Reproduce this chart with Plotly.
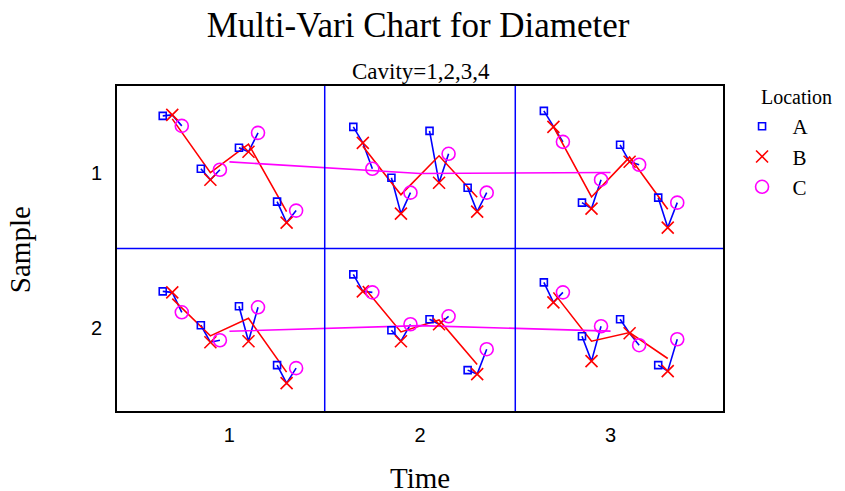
import plotly.graph_objects as go

# ---------------- data (Diameter readings, same scale in each panel) ----------------
times = [1, 2, 3]
samples = [1, 2]
cavities = [1, 2, 3, 4]
locations = ["A", "B", "C"]

# each list: [A per cavity], [B per cavity], [C per cavity]
S1_T1 = [[1.33, 0.80, 1.01, 0.47], [1.34, 0.69, 0.97, 0.26], [1.23, 0.79, 1.16, 0.38]]
S1_T2 = [[1.22, 0.71, 1.18, 0.61], [1.06, 0.35, 0.66, 0.37], [0.80, 0.56, 0.95, 0.56]]
S1_T3 = [[1.38, 0.46, 1.04, 0.51], [1.22, 0.40, 0.87, 0.21], [1.07, 0.69, 0.84, 0.46]]
S2_T1 = [[1.20, 0.86, 1.05, 0.46], [1.19, 0.69, 0.70, 0.28], [0.99, 0.71, 1.04, 0.43]]
S2_T2 = [[1.37, 0.81, 0.92, 0.41], [1.20, 0.70, 0.87, 0.37], [1.19, 0.87, 0.95, 0.62]]
S2_T3 = [[1.29, 0.75, 0.92, 0.46], [1.09, 0.50, 0.78, 0.40], [1.19, 0.85, 0.66, 0.72]]

x_tick_labels = ["1", "2", "3"]
y_tick_labels = ["1", "2"]

data = {(1, 1): S1_T1, (1, 2): S1_T2, (1, 3): S1_T3,
        (2, 1): S2_T1, (2, 2): S2_T2, (2, 3): S2_T3}

# ---------------- layout helpers ----------------
PANEL_H = 1.63
row_base = {1: PANEL_H, 2: 0.0}
cav_off = {1: -0.3, 2: -0.1, 3: 0.1, 4: 0.3}
loc_off = {"A": -0.05, "B": 0.0, "C": 0.05}

BLUE = "#0000FF"
RED = "#FF0000"
MAG = "#FF00FF"

fig = go.Figure()

# blue lines within each cavity (A -> B -> C)
bx, by = [], []
for s in samples:
    for t in times:
        vals = data[(s, t)]
        for ci, c in enumerate(cavities):
            for li, l in enumerate(locations):
                bx.append(t + cav_off[c] + loc_off[l])
                by.append(row_base[s] + vals[li][ci])
            bx.append(None); by.append(None)
fig.add_trace(go.Scatter(x=bx, y=by, mode="lines", line=dict(color=BLUE, width=1.6),
                         showlegend=False, hoverinfo="skip"))

# red lines connecting cavity means within each cell
rx, ry = [], []
cell_means = {}
for s in samples:
    for t in times:
        vals = data[(s, t)]
        cm = []
        for ci, c in enumerate(cavities):
            m = sum(vals[li][ci] for li in range(3)) / 3.0
            cm.append(m)
            rx.append(t + cav_off[c]); ry.append(row_base[s] + m)
        rx.append(None); ry.append(None)
        cell_means[(s, t)] = sum(cm) / len(cm)
fig.add_trace(go.Scatter(x=rx, y=ry, mode="lines", line=dict(color=RED, width=1.6),
                         showlegend=False, hoverinfo="skip"))

# magenta lines connecting cell means across Time
mx, my = [], []
for s in samples:
    for t in times:
        mx.append(t); my.append(row_base[s] + cell_means[(s, t)])
    mx.append(None); my.append(None)
fig.add_trace(go.Scatter(x=mx, y=my, mode="lines", line=dict(color=MAG, width=1.6),
                         showlegend=False, hoverinfo="skip"))

# points per location
styles = {
    "A": dict(symbol="square-open", color=BLUE, size=7, line=dict(width=1.6, color=BLUE)),
    "B": dict(symbol="x-thin-open", color=RED, size=12, line=dict(width=1.6, color=RED)),
    "C": dict(symbol="circle-open", color=MAG, size=13, line=dict(width=1.6, color=MAG)),
}
NB = "\u00a0"
for li, l in enumerate(locations):
    px_, py_ = [], []
    for s in samples:
        for t in times:
            vals = data[(s, t)]
            for ci, c in enumerate(cavities):
                px_.append(t + cav_off[c] + loc_off[l])
                py_.append(row_base[s] + vals[li][ci])
    fig.add_trace(go.Scatter(x=px_, y=py_, mode="markers", name=NB * 2 + l, marker=styles[l]))

# panel dividers
for xv in [1.5, 2.5]:
    fig.add_shape(type="line", xref="x", yref="paper", x0=xv, x1=xv, y0=0, y1=1,
                  line=dict(color=BLUE, width=1.5))
fig.add_shape(type="line", xref="paper", yref="y", x0=0, x1=1, y0=PANEL_H, y1=PANEL_H,
              line=dict(color=BLUE, width=1.5))

serif = "Liberation Serif, Times New Roman, serif"
sans = "Liberation Sans, Arial, sans-serif"

fig.update_layout(
    width=837, height=483,
    margin=dict(l=109, r=122, t=78, b=80),
    paper_bgcolor="white", plot_bgcolor="white",
    title=dict(text="Multi-Vari Chart for Diameter", x=0.49, xanchor="center",
               y=0.965, yanchor="middle", font=dict(family=serif, size=35, color="black")),
    xaxis=dict(range=[0.41, 3.59], tickvals=times, ticktext=x_tick_labels,
               showgrid=False, zeroline=False, showline=True, mirror=True,
               linecolor="black", linewidth=2, ticks="", ticklabelstandoff=5,
               tickfont=dict(family=sans, size=20, color="black")),
    yaxis=dict(range=[0, 2 * PANEL_H], tickvals=[2.39, 0.83], ticktext=y_tick_labels,
               showgrid=False, zeroline=False, showline=True, mirror=True,
               linecolor="black", linewidth=2, ticks="", ticklabelstandoff=9,
               tickfont=dict(family=sans, size=20, color="black")),
    legend=dict(xref="container", yref="container", x=0.877, y=0.797,
                xanchor="left", yanchor="top",
                font=dict(family=serif, size=21, color="black"),
                bgcolor="rgba(0,0,0,0)"),
    annotations=[
        dict(text="Location", xref="paper", yref="paper", x=1.059, y=0.966,
             xanchor="left", yanchor="middle", showarrow=False,
             font=dict(family=serif, size=20, color="black")),
        dict(text="Cavity=1,2,3,4", xref="paper", yref="paper", x=0.502, y=1.045,
             xanchor="center", yanchor="middle", showarrow=False,
             font=dict(family=serif, size=23, color="black")),
        dict(text="Time", xref="paper", yref="paper", x=0.5, y=-0.206,
             xanchor="center", yanchor="middle", showarrow=False,
             font=dict(family=serif, size=29, color="black")),
        dict(text="Sample", xref="paper", yref="paper", x=-0.16, y=0.495,
             xanchor="center", yanchor="middle", showarrow=False, textangle=-90,
             font=dict(family=serif, size=29, color="black")),
    ],
)

fig.write_html("out.html")
